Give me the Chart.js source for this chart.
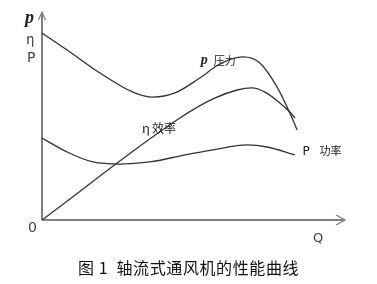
<!DOCTYPE html>
<html>
<head>
<meta charset="utf-8">
<script src="https://cdn.jsdelivr.net/npm/chart.js@4/dist/chart.umd.min.js"></script>
<style>
  html, body { margin: 0; padding: 0; background: #fff; }
  #wrap { width: 377px; height: 284px; position: relative; }
</style>
</head>
<body>
<div id="wrap"><canvas id="fanChart" width="377" height="284"></canvas></div>
<script>
// Curve samples (Q along x, value along y, both 0..100)
const pressureQ   = [0, 8.3, 19.1, 30.0, 36.6, 43.9, 52.1, 58.7, 66.3, 71.9, 77.6, 81.8, 84.2];
const pressureVal = [89.9, 81.7, 70.7, 61.5, 59.1, 61.1, 68.3, 75.0, 78.4, 75.5, 63.9, 51.4, 43.3];

const effQ   = [0, 45.5, 56.4, 64.4, 69.3, 73.6, 78.5, 81.8, 83.5];
const effVal = [0, 49.0, 58.2, 62.5, 63.5, 61.5, 56.3, 51.9, 49.0];

const powerQ   = [0, 8.3, 16.8, 25.7, 35.6, 47.2, 56.4, 67.7, 74.3, 83.5];
const powerVal = [39.4, 32.7, 27.9, 26.9, 27.9, 31.3, 33.7, 36.1, 35.1, 31.3];

const captionText = '图 1  轴流式通风机的性能曲线';

const lineColor = '#333333';
const axisColor = '#808080';
const cjkFont = '"Noto Sans CJK SC", "DejaVu Sans", sans-serif';

function toPoints(xs, ys) {
  return xs.map((x, i) => ({ x: x, y: ys[i] }));
}

// helper: write text at a data position
function textAt(ctx, s, txt, q, v, font, dx, dy) {
  ctx.font = font;
  ctx.fillText(txt, s.x.getPixelForValue(q) + (dx || 0), s.y.getPixelForValue(v) + (dy || 0));
}

const decorPlugin = {
  id: 'decor',
  beforeDatasetsDraw(chart) {
    const ctx = chart.ctx;
    const s = chart.scales;
    const x0 = s.x.getPixelForValue(0);
    const y0 = s.y.getPixelForValue(0);
    const xEnd = s.x.getPixelForValue(100);
    const yTop = s.y.getPixelForValue(100);
    ctx.save();
    ctx.strokeStyle = axisColor;
    ctx.lineWidth = 2;
    ctx.beginPath();
    ctx.moveTo(x0, y0);
    ctx.lineTo(x0, yTop);
    ctx.moveTo(x0, y0);
    ctx.lineTo(xEnd, y0);
    ctx.stroke();
    // open arrow heads
    ctx.lineWidth = 1.3;
    ctx.beginPath();
    ctx.moveTo(x0 - 3.5, yTop + 8);
    ctx.lineTo(x0, yTop);
    ctx.lineTo(x0 + 3.5, yTop + 8);
    ctx.moveTo(xEnd - 9, y0 - 5);
    ctx.lineTo(xEnd, y0);
    ctx.lineTo(xEnd - 9, y0 + 5);
    ctx.stroke();
    ctx.restore();
  },
  afterDraw(chart) {
    const ctx = chart.ctx;
    const s = chart.scales;
    ctx.save();
    ctx.fillStyle = '#222';
    ctx.textBaseline = 'alphabetic';
    ctx.textAlign = 'left';

    // axis captions at the top-left of the y axis
    textAt(ctx, s, 'p', 0, 100, 'bold italic 18px "Liberation Serif", serif', -17, 11);
    ctx.fillStyle = '#444';
    textAt(ctx, s, 'η', 0, 100, '14px ' + cjkFont, -16, 32);
    textAt(ctx, s, 'P', 0, 100, '14px "DejaVu Sans", sans-serif', -15, 50);

    // origin and Q
    textAt(ctx, s, '0', 0, 0, '14px "DejaVu Sans", sans-serif', -14, 12);
    textAt(ctx, s, 'Q', 89.4, 0, '13px "DejaVu Sans", sans-serif', 0, 22);

    // series labels
    ctx.fillStyle = '#222';
    textAt(ctx, s, 'p', 52.1, 75.0, 'bold italic 14px "Liberation Serif", serif', 1, 0);
    textAt(ctx, s, '压力', 52.1, 75.0, '11px ' + cjkFont, 14, 1);
    textAt(ctx, s, 'η', 33, 42, '13px ' + cjkFont, 0, 0);
    textAt(ctx, s, '效率', 33, 42, '12px ' + cjkFont, 10, 0);
    textAt(ctx, s, 'P', 86, 31.3, '12px "DejaVu Sans", sans-serif', 0, 0);
    textAt(ctx, s, '功率', 86, 31.3, '11px ' + cjkFont, 17, 0);

    // figure caption
    ctx.fillStyle = '#111';
    ctx.textAlign = 'center';
    ctx.font = '16px ' + cjkFont;
    ctx.letterSpacing = '0.6px';
    ctx.fillText(captionText, chart.width / 2, 274);
    ctx.restore();
  }
};

const common = {
  borderColor: lineColor,
  borderWidth: 1.3,
  pointRadius: 0,
  fill: false,
  cubicInterpolationMode: 'monotone',
  showLine: true
};

new Chart(document.getElementById('fanChart').getContext('2d'), {
  type: 'scatter',
  data: {
    datasets: [
      Object.assign({ label: '压力', data: toPoints(pressureQ, pressureVal) }, common),
      Object.assign({ label: '效率', data: toPoints(effQ, effVal) }, common),
      Object.assign({ label: '功率', data: toPoints(powerQ, powerVal) }, common)
    ]
  },
  options: {
    responsive: false,
    animation: false,
    layout: { padding: { left: 42, right: 32, top: 12, bottom: 64 } },
    plugins: {
      legend: { display: false },
      tooltip: { enabled: false }
    },
    scales: {
      x: { type: 'linear', min: 0, max: 100, display: false },
      y: { type: 'linear', min: 0, max: 100, display: false }
    }
  },
  plugins: [decorPlugin]
});
</script>
</body>
</html>
